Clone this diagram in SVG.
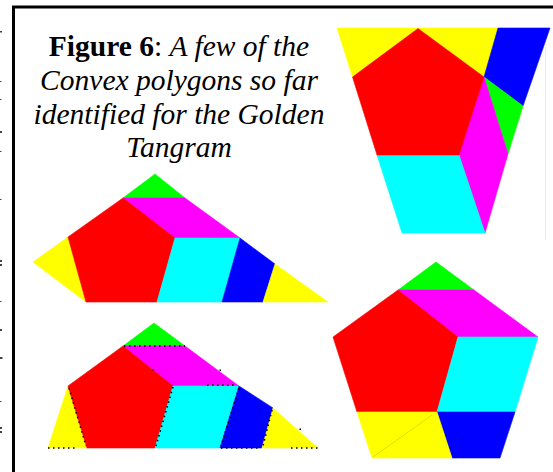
<svg xmlns="http://www.w3.org/2000/svg" width="553" height="472" viewBox="0 0 553 472">
<style>
.r{fill:#ff0000;stroke:#ff0000}
.y{fill:#ffff00;stroke:#ffff00}
.b{fill:#0000ff;stroke:#0000ff}
.g{fill:#00ff00;stroke:#00ff00}
.m{fill:#ff00ff;stroke:#ff00ff}
.c{fill:#00ffff;stroke:#00ffff}
polygon{stroke-width:0.6;stroke-linejoin:round}
.dot{fill:none;stroke:#000;stroke-width:1.5;stroke-dasharray:1.5 3.5}
.t{font-family:"Liberation Serif","Times New Roman",serif;font-size:29.5px;fill:#000}
.tick{fill:#444}
</style>
<rect width="553" height="472" fill="#fff"/>
<g id="margin-ticks">
<rect class="tick" x="0" y="31" width="2" height="1.5"/>
<rect class="tick" x="0" y="81" width="1.5" height="1"/>
<rect class="tick" x="0" y="99" width="1.5" height="1"/>
<rect class="tick" x="0" y="131" width="2" height="2"/>
<rect class="tick" x="0" y="151" width="1.5" height="1"/>
<rect class="tick" x="0" y="199" width="1.5" height="1"/>
<rect class="tick" x="0" y="260" width="2" height="2"/>
<rect class="tick" x="0" y="264" width="2" height="2"/>
<rect class="tick" x="0" y="301" width="1.5" height="1"/>
<rect class="tick" x="0" y="329" width="2" height="2"/>
<rect class="tick" x="0" y="357" width="2.5" height="2"/>
<rect class="tick" x="0" y="401" width="1.5" height="1"/>
<rect class="tick" x="0" y="427" width="2" height="2"/>
<rect class="tick" x="0" y="431" width="2" height="2"/>
</g>
<g id="frame">
<path d="M13.5,472 V7 H553" fill="none" stroke="#000" stroke-width="3"/>
</g>
<g id="caption">
<text class="t" x="179" y="56" text-anchor="middle"><tspan font-weight="bold">Figure 6</tspan>: <tspan font-style="italic">A few of the</tspan></text>
<text class="t" x="179" y="90" text-anchor="middle" font-style="italic">Convex polygons so far</text>
<text class="t" x="179" y="124" text-anchor="middle" font-style="italic">identified for the Golden</text>
<text class="t" x="179" y="157" text-anchor="middle" font-style="italic">Tangram</text>
</g>
<g id="trapezoid">
<line x1="545.5" y1="47" x2="545.5" y2="240" stroke="#ececec" stroke-width="1"/>
<polygon class="y" points="337,28 418,28 352.5,77"/>
<polygon class="y" points="418,28 498,28 484,77"/>
<polygon class="b" points="498,28 550,28 523,106 484,77"/>
<polygon class="g" points="484,77 523,106 508,154"/>
<polygon class="m" points="484,77 508,154 485,233 459,155"/>
<polygon class="c" points="377,155 459,155 485,233 402,233"/>
<polygon class="r" points="418,28.5 484,77 459,155 377,155 352.5,77"/>
</g>
<g id="triangle-1">
<polygon class="g" points="155,174 185,198 123,198"/>
<polygon class="m" points="123,198 185,198 240,238 175,238"/>
<polygon class="y" points="33,262 68,237 86,302"/>
<polygon class="r" points="123,198 175,238 157,302 86,302 68,237"/>
<polygon class="c" points="175,238 240,238 222,302 157,302"/>
<polygon class="b" points="240,238 275,264 263,302 222,302"/>
<polygon class="y" points="275,264 328,302 263,302"/>
</g>
<g id="triangle-2">
<polygon class="g" points="154,323 185,346 123,346"/>
<polygon class="m" points="123,346 185,346 239,386 173,386"/>
<polygon class="y" points="68,386 87,448 48,448"/>
<polygon class="r" points="123,346 173,386 155,448 87,448 68,386"/>
<polygon class="c" points="173,386 239,386 220,448 155,448"/>
<polygon class="b" points="239,386 273,408 262,448 220,448"/>
<polygon class="y" points="273,408 318,448 262,448"/>
<g id="dotted-edges">
<line class="dot" x1="124" y1="346" x2="185" y2="346"/>
<line class="dot" x1="48" y1="448" x2="78" y2="448"/>
<line class="dot" x1="69" y1="388" x2="86" y2="446"/>
<line class="dot" x1="173" y1="387" x2="156" y2="446"/>
<line class="dot" x1="207" y1="385" x2="236" y2="385"/>
<line class="dot" x1="239" y1="388" x2="221" y2="446"/>
<line class="dot" x1="272" y1="410" x2="263" y2="446"/>
<line class="dot" x1="221" y1="448" x2="258" y2="448"/>
<line class="dot" x1="291" y1="448" x2="318" y2="448"/>
<rect x="152.5" y="369.5" width="1.5" height="1.5"/>
<rect x="219.5" y="369.5" width="1.5" height="1.5"/>
<rect x="299.5" y="428.5" width="1.5" height="1.5"/>
</g>
</g>
<g id="pentagon">
<polygon class="g" points="436,262 474,290 398,290"/>
<polygon class="m" points="398,290 474,290 538,337 458,337"/>
<polygon class="r" points="398,290 458,337 437,412 357,412 333,337"/>
<polygon class="c" points="458,337 538,337 515,412 437,412"/>
<polygon class="b" points="437,412 515,412 500,458 452,458"/>
<polygon class="y" points="357,412 437,412 452,458 372,458"/>
<line x1="373" y1="457" x2="432" y2="415" stroke="#e0e000" stroke-width="1"/>
</g>
</svg>
